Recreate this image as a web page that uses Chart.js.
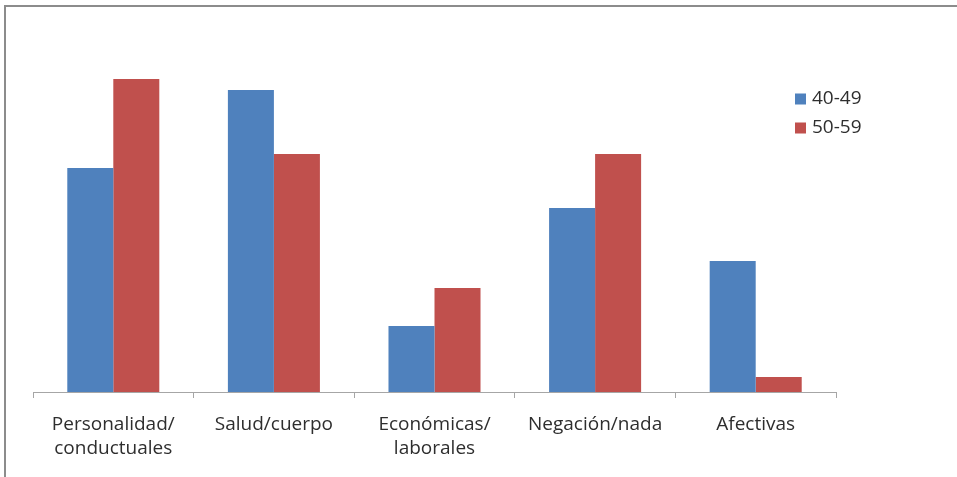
<!DOCTYPE html>
<html>
<head>
<meta charset="utf-8">
<script src="https://cdn.jsdelivr.net/npm/chart.js@4/dist/chart.umd.min.js"></script>
<style>
  html, body { margin: 0; padding: 0; background: #fff; }
  #wrap { position: relative; width: 957px; height: 477px; }
</style>
</head>
<body>
<div id="wrap"><canvas id="c" width="957" height="477"></canvas></div>
<script>
// Categories and series values (percent)
const categories = [
  ["Personalidad/", "conductuales"],
  "Salud/cuerpo",
  ["Económicas/", "laborales"],
  "Negación/nada",
  "Afectivas"
];
const seriesNames = ["40-49", "50-59"];
const values4049 = [22.4, 30.2, 6.6, 18.4, 13.1];
const values5059 = [31.3, 23.8, 10.4, 23.8, 1.5];
const colors = ["#4F81BD", "#C0504D"];

const FONT = "'Open Sans', Lato, sans-serif";
const TEXT_COLOR = '#2e2e2e';

// Outer frame lines (top and left) and the legend on the right
const framePlugin = {
  id: 'frame',
  beforeDraw(chart) {
    const ctx = chart.ctx;
    ctx.save();
    ctx.fillStyle = '#fff';
    ctx.fillRect(0, 0, chart.width, chart.height);
    ctx.strokeStyle = '#8c8c8c';
    ctx.lineWidth = 2;
    ctx.beginPath();
    ctx.moveTo(5, chart.height);
    ctx.lineTo(5, 6);
    ctx.lineTo(chart.width, 6);
    ctx.stroke();
    ctx.restore();
  },
  afterDraw(chart) {
    const ctx = chart.ctx;
    ctx.save();
    ctx.font = "19px " + FONT;
    ctx.textBaseline = 'middle';
    chart.data.datasets.forEach((ds, i) => {
      const y = 99 + i * 29;
      ctx.fillStyle = ds.backgroundColor;
      ctx.fillRect(795, y - 5.5, 11, 11);
      ctx.fillStyle = TEXT_COLOR;
      ctx.fillText(ds.label, 812, y);
    });
    ctx.restore();
  }
};

new Chart(document.getElementById('c'), {
  type: 'bar',
  data: {
    labels: categories,
    datasets: [
      { label: seriesNames[0], data: values4049, backgroundColor: colors[0] },
      { label: seriesNames[1], data: values5059, backgroundColor: colors[1] }
    ]
  },
  options: {
    responsive: false,
    animation: false,
    devicePixelRatio: 1,
    layout: { padding: { left: 33, right: 121, top: 42, bottom: 0 } },
    categoryPercentage: 0.573,
    barPercentage: 1.0,
    plugins: {
      legend: { display: false },
      tooltip: { enabled: false }
    },
    scales: {
      y: {
        display: false,
        min: 0,
        max: 35
      },
      x: {
        offset: true,
        grid: {
          offset: true,
          drawOnChartArea: false,
          drawTicks: true,
          tickLength: 6,
          color: '#a6a6a6',
          lineWidth: 1
        },
        border: { display: true, color: '#a6a6a6', width: 1 },
        ticks: {
          color: TEXT_COLOR,
          font: { family: FONT, size: 19, lineHeight: 1.26 },
          padding: 15,
          maxRotation: 0,
          autoSkip: false
        },
        afterFit(scale) { scale.height = 85; }
      }
    }
  },
  plugins: [framePlugin]
});
</script>
</body>
</html>
